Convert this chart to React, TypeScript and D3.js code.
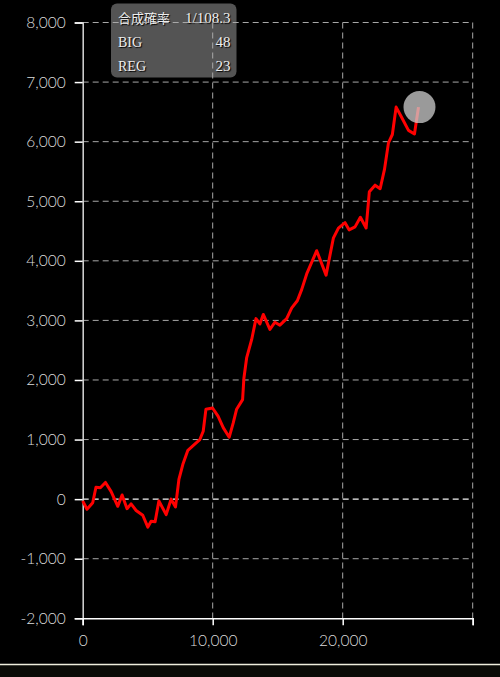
import { useEffect, useRef } from "react";
import * as d3 from "d3";

// games played vs. medal difference
const games = [
  0, 330, 770, 1020, 1360, 1750, 2180, 2700, 3030, 3410, 3720, 4110, 4620,
  5010, 5260, 5570, 5860, 6420, 6800, 7140, 7400, 7700, 8090, 8450, 9010,
  9270, 9480, 9990, 10420, 10810, 11270, 11580, 11840, 12300, 12400, 12610,
  13000, 13330, 13630, 13890, 14400, 14790, 15170, 15690, 16080, 16510,
  16850, 17230, 18000, 18720, 19280, 19670, 20180, 20490, 20950, 21360,
  21800, 22050, 22490, 22880, 23210, 23520, 23820, 24110, 24550, 25060,
  25520, 25830,
];
const diff = [
  -30, -170, -60, 200, 190, 280, 130, -120, 70, -160, -80, -190, -270, -470,
  -370, -380, -30, -260, 0, -130, 330, 580, 820, 890, 1000, 1140, 1510, 1530,
  1390, 1200, 1040, 1280, 1510, 1670, 2030, 2370, 2680, 3030, 2940, 3100,
  2850, 2970, 2920, 3030, 3210, 3330, 3520, 3780, 4170, 3760, 4380, 4550,
  4640, 4520, 4570, 4730, 4550, 5160, 5270, 5210, 5530, 5980, 6120, 6580,
  6400, 6190, 6130, 6580,
];

const yTicks = [-2000, -1000, 0, 1000, 2000, 3000, 4000, 5000, 6000, 7000, 8000];
const xTicks = [0, 10000, 20000, 30000];
const xLabels = ["0", "10,000", "20,000", ""];

const legendRows = [
  ["合成確率", "1/108.3"],
  ["BIG", "48"],
  ["REG", "23"],
];

const W = 500;
const H = 677;

export default function App() {
  const ref = useRef<SVGSVGElement>(null);

  useEffect(() => {
    const svg = d3.select(ref.current!);
    svg.selectAll("*").remove();

    const margin = { top: 22.5, right: 27.3, bottom: 58.7, left: 82.7 };
    const x = d3
      .scaleLinear()
      .domain([0, 30000])
      .range([margin.left, W - margin.right]);
    const y = d3
      .scaleLinear()
      .domain([-2000, 8000])
      .range([H - margin.bottom, margin.top]);

    const fmt = d3.formatLocale({
      decimal: ".",
      thousands: ",",
      grouping: [3],
      currency: ["", ""],
      minus: "-",
    }).format(",");

    svg.append("rect").attr("width", W).attr("height", H).attr("fill", "#000");

    // legend box sits under the grid
    const lg = svg.append("g").attr("transform", "translate(111,3.5)");
    lg.append("rect")
      .attr("width", 125.5)
      .attr("height", 74)
      .attr("rx", 6)
      .attr("fill", "#545454");
    legendRows.forEach(([k, v], i) => {
      const by = 19.5 + i * 24;
      lg.append("text")
        .attr("x", 7)
        .attr("y", by)
        .attr("fill", "#eee")
        .attr("font-family", "'Liberation Serif', 'Noto Sans CJK JP', serif")
        .attr("font-size", i === 0 ? 13 : 14)
        .style("text-shadow", "1px 1px 1px #000")
        .text(k);
      lg.append("text")
        .attr("x", 119.5)
        .attr("y", by)
        .attr("text-anchor", "end")
        .attr("fill", "#eee")
        .attr("font-family", "'Liberation Serif', serif")
        .attr("font-size", 15)
        .style("text-shadow", "1px 1px 1px #000")
        .text(v);
    });

    // grid
    const grid = svg.append("g");
    grid
      .selectAll("line.h")
      .data(yTicks.filter((d) => d !== -2000))
      .join("line")
      .attr("class", "h")
      .attr("x1", x(0))
      .attr("x2", x(30000))
      .attr("y1", (d) => y(d))
      .attr("y2", (d) => y(d))
      .attr("stroke", (d) => (d === 0 ? "#f4f4f4" : "#a8a8a8"))
      .attr("stroke-width", (d) => (d === 0 ? 1.4 : 1))
      .attr("stroke-dasharray", "6,4");
    grid
      .selectAll("line.v")
      .data(xTicks.filter((d) => d !== 0))
      .join("line")
      .attr("class", "v")
      .attr("x1", (d) => x(d))
      .attr("x2", (d) => x(d))
      .attr("y1", y(8000))
      .attr("y2", y(-2000))
      .attr("stroke", "#a8a8a8")
      .attr("stroke-width", 1)
      .attr("stroke-dasharray", "6,4");

    // axes
    const yAxis = svg
      .append("g")
      .attr("transform", `translate(${x(0)},0)`)
      .call(
        d3
          .axisLeft(y)
          .tickValues(yTicks)
          .tickSize(8)
          .tickPadding(9)
          .tickFormat((d) => fmt(d as number))
      );
    yAxis.select(".domain").attr("stroke", "#d8d8d8").attr("stroke-width", 1.5);
    yAxis.selectAll(".tick line").attr("stroke", "#fff").attr("stroke-width", 1.5);

    const xAxis = svg
      .append("g")
      .attr("transform", `translate(0,${y(-2000)})`)
      .call(
        d3
          .axisBottom(x)
          .tickValues(xTicks)
          .tickSize(7)
          .tickPadding(10)
          .tickFormat((_, i) => xLabels[i])
      );
    xAxis.select(".domain").attr("stroke", "#fff").attr("stroke-width", 1.5);
    xAxis.selectAll(".tick line").attr("stroke", "#fff").attr("stroke-width", 1.5);

    svg
      .selectAll(".tick text")
      .attr("fill", "#dcdcdc")
      .attr("font-family", "Lato, 'Noto Sans', sans-serif")
      .attr("font-weight", 300)
      .attr("font-size", 15.5);

    // medal line
    const pts = games.map((g, i) => [g, diff[i]] as [number, number]);
    const line = d3
      .line<[number, number]>()
      .x((d) => x(d[0]))
      .y((d) => y(d[1]));
    svg
      .append("path")
      .attr("d", line(pts))
      .attr("fill", "none")
      .attr("stroke", "#ff0000")
      .attr("stroke-width", 3)
      .attr("stroke-linejoin", "round");

    const last = pts[pts.length - 1];
    svg
      .append("circle")
      .attr("cx", x(last[0]) + 1)
      .attr("cy", y(last[1]))
      .attr("r", 16)
      .attr("fill", "rgba(205,205,205,0.75)");

    // bottom rule
    svg.append("rect").attr("x", 0).attr("y", 665).attr("width", W).attr("height", 12).attr("fill", "#0a0a06");
    svg
      .append("line")
      .attr("x1", 0)
      .attr("x2", W)
      .attr("y1", 664.5)
      .attr("y2", 664.5)
      .attr("stroke", "#efeedd")
      .attr("stroke-width", 1.5);
  }, []);

  return (
    <div style={{ position: "fixed", left: 0, top: 0, width: W, height: H, background: "#000" }}>
      <svg ref={ref} width={W} height={H} style={{ display: "block" }} />
    </div>
  );
}
